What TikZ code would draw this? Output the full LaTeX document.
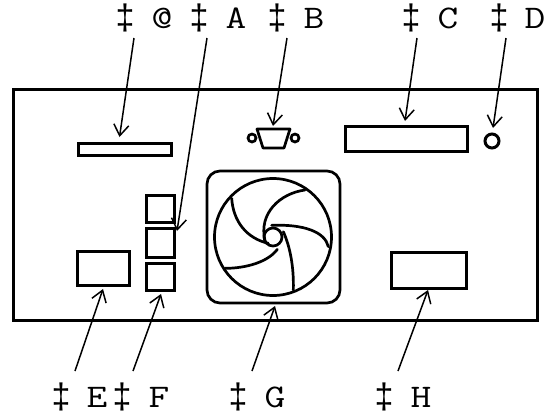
\documentclass[tikz,border=0pt]{standalone}
\usepackage{fontspec}
\newfontfamily\dagfont{Liberation Mono}
\usetikzlibrary{arrows.meta}
\tikzset{
  part/.style={draw=black,line width=3pt,line join=miter},
  thinpart/.style={draw=black,line width=2.7pt},
  callout/.style={draw=black,line width=1.5pt,-{Straight Barb[length=11pt,width=15pt,line width=1.5pt]}},
  lab/.style={font=\ttfamily\fontsize{33}{33}\selectfont,anchor=base,inner sep=0pt,text=black,xscale=1.22},
  dagl/.style={font=\dagfont\fontsize{34}{34}\selectfont,anchor=base,inner sep=0pt,text=black},
  blade/.style={draw=black,line width=2.7pt,line cap=round}
}
\begin{document}
\begin{tikzpicture}[x=1pt,y=-1pt]
\useasboundingbox (0,0) rectangle (548,416);
% casing
\path[part] (13,89) rectangle (537,320);
% ports
\path[part] (78,143.5) rectangle (171,155);
\path[thinpart,line join=round] (257,129) -- (290,129) -- (284,148) -- (263,148) -- cycle;
\path[thinpart] (252,138) circle (4);
\path[thinpart] (295,138) circle (4);
\path[part] (345,126) rectangle (467,151);
\path[part] (492,141) circle (7);
\path[part] (146.5,195.5) rectangle (174.5,222);
\path[part] (146.5,228) rectangle (174.5,257);
\path[part] (146.5,263) rectangle (174.5,290);
\path[part] (77.5,251.5) rectangle (129,285);
\path[part] (391.5,252.5) rectangle (466.5,288);
% fan
\path[thinpart,rounded corners=13pt] (207,171) rectangle (340,303);
\path[thinpart] (273,237) circle (58.5);
\path[thinpart] (273,237) circle (9);
\begin{scope}[shift={(190,150)},x=0.33333pt,y=-0.33333pt]
\path[blade] (125,145) .. controls (130,215) and (170,265) .. (235,280);
\path[blade] (345,120) .. controls (270,130) and (205,190) .. (225,272);
\path[blade] (415,290) .. controls (405,245) and (340,222) .. (245,226);
\path[blade] (310,420) .. controls (312,350) and (300,290) .. (280,245);
\path[blade] (105,355) .. controls (170,355) and (235,335) .. (262,298);
\end{scope}
% labels
\node[dagl] (d0) at (125,28) {‡}; \node[lab] (l0) at (162,28) {@};
\node[dagl] (d1) at (199,28) {‡}; \node[lab] (l1) at (236,28) {A};
\node[dagl] (d2) at (277,28) {‡}; \node[lab] (l2) at (314,28) {B};
\node[dagl] (d3) at (411,28) {‡}; \node[lab] (l3) at (448,28) {C};
\node[dagl] (d4) at (499,28) {‡}; \node[lab] (l4) at (535,28) {D};
\node[dagl] (d5) at (61,407) {‡}; \node[lab] (l5) at (97,407) {E};
\node[dagl] (d6) at (122,407) {‡}; \node[lab] (l6) at (159,407) {F};
\node[dagl] (d7) at (238,407) {‡}; \node[lab] (l7) at (275,407) {G};
\node[dagl] (d8) at (384,407) {‡}; \node[lab] (l8) at (421,407) {H};
% connector ends
\coordinate (s0) at (134,38);  \coordinate (t0) at (119.5,137);
\coordinate (s1) at (207,38);  \coordinate (t1) at (177,231);
\coordinate (s2) at (287,38);  \coordinate (t2) at (273,126);
\coordinate (s3) at (417,38);  \coordinate (t3) at (405,121);
\coordinate (s4) at (506,38);  \coordinate (t4) at (493,128);
\coordinate (s5) at (75,371);  \coordinate (t5) at (103,289);
\coordinate (s6) at (133,371); \coordinate (t6) at (161,294);
\coordinate (s7) at (252,371); \coordinate (t7) at (275,306);
\coordinate (s8) at (398,371); \coordinate (t8) at (428,290);
\foreach \i in {0,...,8} \draw[callout] (s\i) -- (t\i);
\end{tikzpicture}
\end{document}
